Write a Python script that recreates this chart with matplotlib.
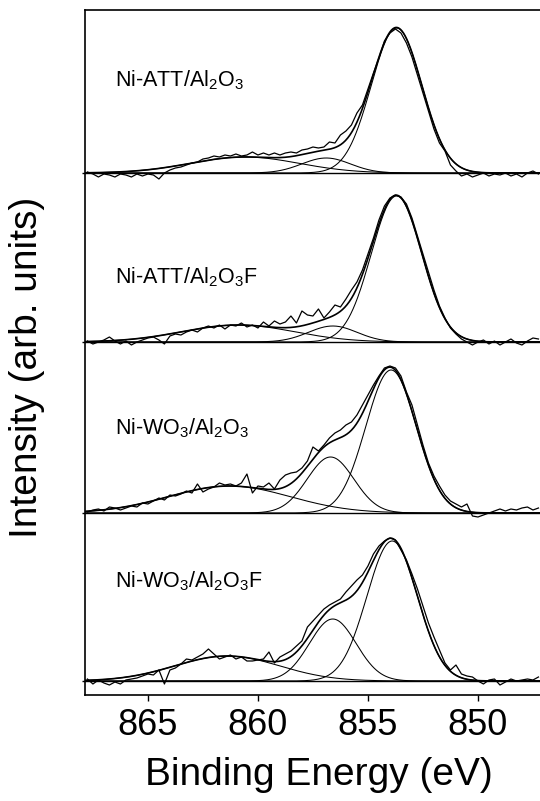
import numpy as np
import matplotlib.pyplot as plt

plt.rcParams['font.family'] = ['Liberation Sans', 'DejaVu Sans']
plt.rcParams['mathtext.fontset'] = 'custom'
plt.rcParams['mathtext.rm'] = 'Liberation Sans'
plt.rcParams['mathtext.it'] = 'Liberation Sans:italic'

# measured grid, binding energy in eV (867.75 ... 847.25)
energy = np.arange(867.75, 847.2, -0.25)

labels = [r'Ni-ATT/Al$_2$O$_3$', r'Ni-ATT/Al$_2$O$_3$F',
          r'Ni-WO$_3$/Al$_2$O$_3$', r'Ni-WO$_3$/Al$_2$O$_3$F']

# raw Ni 2p3/2 spectra (arb. units, above each baseline)
raw_att_al = [1, -1, -4, -1, -2, -4, -1, -2, -4, -1, -3, -1, -2, -6, 0, 3, 5, 6, 8, 10,
              11, 14, 15, 17, 16, 18, 17, 19, 17, 18, 21, 18, 20, 18, 20, 18, 20, 21, 20, 23,
              24, 26, 25, 26, 31, 30, 38, 42, 48, 60, 68, 84, 100, 115, 132, 140, 144, 140, 130, 116,
              98, 80, 62, 44, 30, 22, 8, 2, -3, -1, -4, -2, 0, -3, -1, -2, 0, -3, -1, -4,
              0, 2, -1]
raw_att_alf = [1, -2, 0, 2, 5, 1, -2, 1, -3, 0, 2, 4, 5, 2, -2, 6, 8, 7, 10, 12,
               10, 14, 16, 14, 17, 13, 17, 16, 19, 15, 17, 14, 20, 16, 21, 18, 20, 26, 19, 31,
               27, 26, 33, 24, 30, 37, 35, 43, 52, 60, 72, 88, 104, 122, 136, 144, 147, 145, 138, 124,
               106, 88, 70, 52, 36, 24, 14, 8, 3, 0, -3, 0, 2, -2, 1, -3, 0, 3, -1, -3,
               1, 4, 3]
raw_wo_al = [1, 3, 4, 2, 6, 5, 3, 5, 7, 6, 10, 9, 12, 15, 13, 18, 17, 19, 22, 20,
             29, 21, 24, 26, 30, 28, 29, 27, 30, 39, 20, 27, 26, 30, 24, 33, 38, 40, 41, 45,
             52, 66, 62, 68, 75, 80, 83, 88, 91, 98, 108, 118, 128, 137, 145, 147, 145, 137, 121, 108,
             88, 68, 50, 37, 27, 18, 12, 9, 6, 9, -3, -4, -2, 0, 2, 4, 2, 4, 3, 5,
             6, 3, 5]
raw_wo_alf = [2, -3, 1, -2, -4, -1, -3, 1, 2, 3, 5, 7, 6, 11, -3, 11, 13, 17, 22, 21,
              24, 27, 32, 27, 22, 24, 26, 22, 24, 20, 20, 21, 22, 29, 18, 24, 27, 30, 35, 40,
              54, 60, 66, 72, 76, 79, 82, 89, 95, 101, 106, 115, 127, 135, 140, 143, 141, 131, 121, 107,
              92, 75, 58, 44, 31, 18, 11, 16, 7, 5, 4, 0, -3, 1, 2, -4, -1, 2, 0, 1,
              2, 1, 4]
raw_spectra = [raw_att_al, raw_att_alf, raw_wo_al, raw_wo_alf]

# fitted components: (centre eV, height, FWHM eV) -> main Ni2+, second Ni2+, satellite
fit_att_al = [(853.7, 145, 2.7), (856.9, 15, 2.6), (860.6, 16, 5.8)]
fit_att_alf = [(853.7, 146, 2.7), (856.6, 16, 2.6), (860.9, 17, 6.0)]
fit_wo_al = [(853.95, 143, 2.7), (856.7, 56, 2.5), (861.3, 27, 6.5)]
fit_wo_alf = [(853.9, 140, 2.7), (856.6, 62, 2.5), (861.4, 25, 5.6)]
fits = [fit_att_al, fit_att_alf, fit_wo_al, fit_wo_alf]

# vertical stacking (baseline of each spectrum) and label heights
offsets = [522, 353, 182, 14]
label_dy = [87, 59, 79, 94]

fig = plt.figure(figsize=(5.4, 8.01), dpi=100)
ax = fig.add_axes([85 / 540, 106 / 801, 1 - 85 / 540, 685.5 / 801])

e_fine = np.linspace(867.9, 847.1, 600)

for raw, fit, off, lab, ldy in zip(raw_spectra, fits, offsets, labels, label_dy):
    ax.axhline(off, color='black', lw=1.0)
    total = np.zeros_like(e_fine)
    for c, h, w in fit:
        comp = h * np.exp(-4 * np.log(2) * (e_fine - c) ** 2 / w ** 2)
        total += comp
        ax.plot(e_fine, comp + off, color='black', lw=0.75)
    ax.plot(e_fine, total + off, color='black', lw=1.2)
    ax.plot(energy, np.array(raw) + off, color='black', lw=0.9)
    ax.text(866.5, off + ldy, lab, fontsize=15.5, va='baseline', ha='left')

ax.set_xlim(867.86, 847.18)
ax.set_ylim(0, 685.5)
ax.set_xticks([865, 860, 855, 850])
ax.set_yticks(offsets)
ax.set_yticklabels([])
ax.tick_params(axis='x', direction='out', length=4.5, width=1.0, labelsize=26, pad=5)
ax.tick_params(axis='y', direction='out', length=2.0, width=1.0)
for s in ['top', 'left', 'bottom']:
    ax.spines[s].set_linewidth(1.2)
ax.spines['right'].set_visible(False)

fig.text(319 / 540, 1 - 785 / 801, 'Binding Energy (eV)', fontsize=28,
         ha='center', va='baseline')
fig.text(27.5 / 540, 0.541, 'Intensity (arb. units)', fontsize=28,
         rotation=90, ha='center', va='center')

fig.savefig('out.png', dpi=100)
